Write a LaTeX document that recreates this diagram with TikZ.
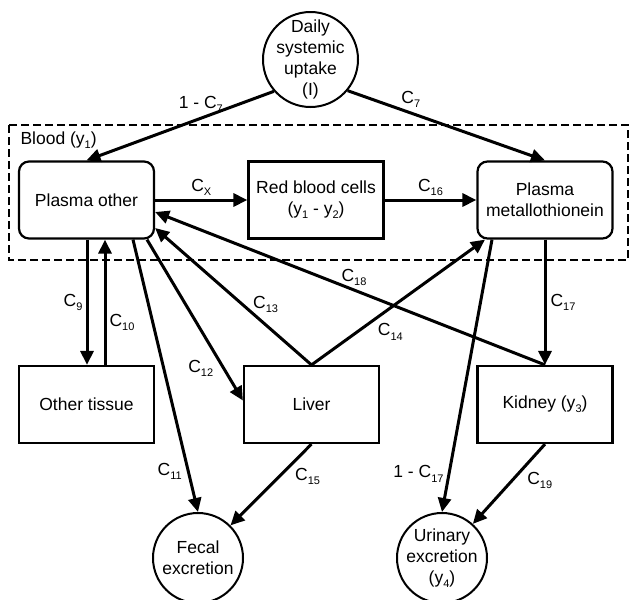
\documentclass[tikz,border=0pt]{standalone}
\usepackage{fontspec}
\setmainfont{Liberation Sans}
\usetikzlibrary{arrows.meta, positioning}
\newcommand{\subtx}[1]{\raisebox{-0.45ex}{\fontsize{11}{11}\selectfont #1}}

\begin{document}
\begin{tikzpicture}[x=1pt, y=-1pt,
    font=\fontsize{17.5}{21}\selectfont,
    comp/.style={draw, line width=2.2pt, minimum width=135pt, minimum height=77pt, inner sep=0pt, align=center},
    plasma/.style={comp, rounded corners=10pt},
    pool/.style={draw, circle, line width=2pt, inner sep=-12pt, align=center},
    flow/.style={line width=3pt, -{Triangle[length=14pt, width=13pt]}},
    rate/.style={inner sep=1pt}]
	\useasboundingbox (0,0) rectangle (630,600);
	% blood
	\draw[line width=2pt, dash pattern=on 8pt off 4pt] (9,125) rectangle (628,260);
	\node[anchor=west] (blood) at (17,140) {Blood (y\subtx{1})};
	\node[pool, minimum size=95pt] (uptake) at (310.5,59.5) {Daily\\systemic\\uptake\\(I)};
	\node[plasma] (po) at (86.5,200) {Plasma other};
	\node[comp] (rbc) at (316,200) {Red blood cells\\(y\subtx{1} - y\subtx{2})};
	\node[plasma] (pm) at (545,200) {Plasma\\metallothionein};
	% tissues
	\node[comp] (ot) at (86.5,404.5) {Other tissue};
	\node[comp] (liver) at (311.5,404.5) {Liver};
	\node[comp] (kidney) at (545,404.5) {Kidney (y\subtx{3})};
	% excretion
	\node[pool, minimum size=90pt] (fecal) at (198,558) {Fecal\\excretion};
	\node[pool, minimum size=90pt] (urine) at (442,558) {Urinary\\excretion\\(y\subtx{4})};

	\draw[flow] (uptake.221) -- (po.north) node[rate, pos=0.39, above=3pt] (r1) {1 - C\subtx{7}};
	\draw[flow] (uptake.-40) -- (pm.north) node[rate, pos=0.32, above=3pt] (r2) {C\subtx{7}};
	\draw[flow] (po) -- (rbc) node[rate, midway, above=2pt] (r3) {C\subtx{X}};
	\draw[flow] (rbc) -- (pm) node[rate, midway, above=2pt] (r4) {C\subtx{16}};
	\draw[flow] ([xshift=0.5pt]po.south) -- ([xshift=0.5pt]ot.north) node[rate, midway, left=2pt] (r5) {C\subtx{9}};
	\draw[flow] ([xshift=18.5pt]ot.north) -- ([xshift=18.5pt]po.south) node[rate, pos=0.34, right=2pt] (r6) {C\subtx{10}};
	\draw[flow] ([xshift=46.5pt]po.south) -- (fecal.north) node[rate, pos=0.85, left=4pt] (r7) {C\subtx{11}};
	\draw[flow] ([xshift=60.5pt]po.south) -- ([yshift=4pt]liver.west) node[rate, pos=0.8, left=8pt] (r8) {C\subtx{12}};
	\draw[flow] (liver.north) -- ([yshift=-28pt]po.east) node[rate, pos=0.44, right=8pt] (r9) {C\subtx{13}};
	\draw[flow] (liver.north) -- ([xshift=-60pt]pm.south) node[rate, pos=0.36, below right=2pt] (r10) {C\subtx{14}};
	\draw[flow] (kidney.north) -- ([yshift=-12pt]po.east) node[rate, pos=0.49, above=2pt] (r11) {C\subtx{18}};
	\draw[flow] ([xshift=-53pt]pm.south) -- (urine.north) node[rate, pos=0.86, left=3pt] (r12) {1 - C\subtx{17}};
	\draw[flow] (pm) -- (kidney) node[rate, midway, right=3pt] (r13) {C\subtx{17}};
	\draw[flow] (kidney.south) -- (urine) node[rate, pos=0.3, below right=2pt] (r14) {C\subtx{19}};
	\draw[flow] (liver.south) -- (fecal) node[rate, pos=0.25, below right=2pt] (r15) {C\subtx{15}};
\end{tikzpicture}
\end{document}
